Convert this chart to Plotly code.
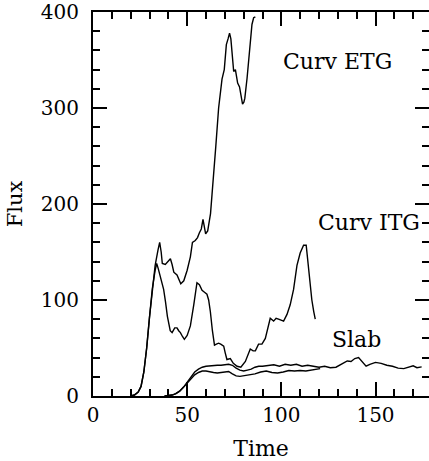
import plotly.graph_objects as go

# ---- data ----
etg_t = [20, 22, 24, 25.5, 27, 28.5, 30, 31.5, 33, 34.5, 35.4, 36.2, 36.8, 38.4, 40, 41.1, 42, 42.9,
         44.6, 45.5, 46.6, 48.2, 50, 51.7, 52.8, 54.3, 55.5, 56.5, 57.5, 58.4, 59.2, 59.8, 60.9, 61.6,
         62.4, 63.2, 64.2, 65.2, 66.7, 67.6, 68.5, 69.7, 70.2, 70.8, 71.7, 72.5, 73.2, 73.8, 74.7, 75.6,
         76.8, 77.8, 78.6, 79.4, 80.1, 80.6, 81.8, 83.1, 84.4, 85.3, 86.2]
etg_f = [0, 1, 4, 10, 25, 50, 82, 112, 136, 152, 160, 150, 138, 137, 141, 143, 137, 129,
         126, 122, 117, 120, 131, 145, 160, 162, 165, 170, 174, 184, 174, 169, 172, 180,
         190, 210, 240, 260, 300, 318, 330, 340, 355, 366, 372, 378, 372, 360, 338, 340,
         326, 322, 312, 304, 306, 310, 331, 359, 387, 394, 395]

itg_t = [20, 22, 24, 25.5, 27, 28.5, 30, 31.5, 33, 33.8, 34.6, 35.8, 37.5, 38.5, 39.5, 41, 42, 43.4,
         44.6, 45.5, 46.4, 47.5, 48.5, 50, 51.7, 53.5, 55.2, 56.5, 57.9, 59.2, 60.5, 61.4, 62.3, 63.4,
         64.5, 65.5, 66.7, 67.8, 69.4, 70.2, 71.1, 72.9, 74.5, 76.5, 78.5, 80.9, 82.5, 83.5, 85, 86.2,
         87.9, 89.7, 91.5, 93, 94.1, 95.9, 97.2, 98.5, 100, 101.2, 103, 104.7, 106.5, 108.3, 110,
         111.2, 111.8, 113.2, 114.4, 115.3, 116.2, 117.2, 118]
itg_f = [0, 1, 4, 10, 25, 50, 82, 112, 131, 138, 133, 124, 111, 98, 83, 68, 66, 71,
         71, 68, 66, 62, 59, 63, 73, 95, 118, 116, 110, 108, 106, 100, 88, 68,
         53, 54, 55, 54, 52, 45, 38, 39, 34, 31, 30, 36, 44, 49, 47, 47,
         54, 54, 60, 71, 81, 78, 81, 80, 79, 78, 85, 95, 111, 136, 149,
         155, 157, 157, 135, 115, 100, 88, 80]

slab_t = [38, 40, 42, 44, 46, 48, 50, 52, 54, 56, 58, 60, 62, 64, 66, 68, 70, 72, 74, 76, 78, 80,
          82, 84, 86, 88, 90, 93, 96, 99, 102, 105, 108, 111, 114, 117, 120, 123, 126, 129, 132,
          135, 137, 139, 141, 143, 145, 147, 150, 153, 156, 159, 162, 165, 168, 170, 172, 174.5]
slab_f = [0, 0.5, 1, 2.5, 5, 9, 14, 20, 25, 28, 30, 31, 31.5, 32, 32, 32, 32.5, 33, 32, 29, 27, 26,
          27, 28, 30, 31, 31, 32, 32.5, 31, 33, 32, 33, 31, 32, 31, 30, 31, 29.5, 30, 33,
          36.5, 36, 39, 40, 35, 31, 33, 35, 34, 32, 31, 29, 28.5, 30, 31.5, 29.5, 30.3]

low_t = [38, 40, 42, 44, 46, 48, 50, 52, 54, 56, 58, 60, 62, 64, 66, 68, 70, 72, 74, 76, 78, 80,
         83, 86, 89, 92, 95, 98, 101, 104, 107, 110, 113, 116, 118, 120.6]
low_f = [0, 0.5, 1, 2.5, 5, 9, 13, 18, 22, 24.5, 26, 26, 25, 24.5, 24, 24.5, 25, 25.5, 23, 21, 20.5, 21,
         22, 23, 25, 26, 24.5, 24, 25, 26.5, 26, 26.5, 26, 27, 27.5, 28.5]

labels = ["Curv ETG", "Curv ITG", "Slab"]
label_t = [129.6, 146.6, 139.7]
label_f = [348, 181, 59]

x_range = [0, 178.4]
y_range = [0, 400]

FONT = "DejaVu Serif"

fig = go.Figure()
for tt, ff in [(etg_t, etg_f), (itg_t, itg_f), (slab_t, slab_f), (low_t, low_f)]:
    fig.add_trace(go.Scatter(x=tt, y=ff, mode="lines",
                             line=dict(color="black", width=1.4), showlegend=False,
                             hoverinfo="skip"))
# empty trace to anchor the right-hand tick axis
fig.add_trace(go.Scatter(x=[], y=[], yaxis="y2", showlegend=False))

for lab, lt, lf in zip(labels, label_t, label_f):
    fig.add_annotation(x=lt, y=lf, text=lab, showarrow=False,
                       font=dict(family=FONT, size=22, color="black"))

fig.update_layout(
    width=429, height=461,
    margin=dict(l=93, r=0, t=11, b=64),
    paper_bgcolor="white", plot_bgcolor="white",
    font=dict(family=FONT, color="black"),
    xaxis=dict(range=x_range, showgrid=False, zeroline=False,
               showline=True, linewidth=2, linecolor="black", mirror="ticks",
               ticks="inside", ticklen=14, tickwidth=1.5, tickcolor="black",
               tickvals=[0, 50, 100, 150], ticktext=["0", "50", "100", "150"],
               minor=dict(dtick=10, tick0=0, ticks="inside", ticklen=7, tickwidth=1.5,
                          tickcolor="black", showgrid=False),
               tickfont=dict(family=FONT, size=20), ticklabeloverflow="allow",
               title=dict(text="Time", font=dict(family=FONT, size=22), standoff=19)),
    yaxis=dict(range=y_range, showgrid=False, zeroline=False,
               showline=True, linewidth=2, linecolor="black", mirror=False,
               ticks="inside", ticklen=14, tickwidth=1.5, tickcolor="black",
               tickvals=[0, 100, 200, 300, 400], ticktext=["0", "100", "200", "300", "400"],
               minor=dict(dtick=20, tick0=0, ticks="inside", ticklen=7, tickwidth=1.5,
                          tickcolor="black", showgrid=False),
               tickfont=dict(family=FONT, size=20), ticklabelstandoff=8,
               ticklabeloverflow="allow",
               title=dict(text="Flux", font=dict(family=FONT, size=21), standoff=12)),
    yaxis2=dict(range=y_range, overlaying="y", side="right", showgrid=False, zeroline=False,
                showline=False, showticklabels=False,
                ticks="inside", ticklen=14, tickwidth=1.5, tickcolor="black",
                tickvals=[0, 100, 200, 300, 400],
                minor=dict(dtick=20, tick0=0, ticks="inside", ticklen=7, tickwidth=1.5,
                           tickcolor="black", showgrid=False)),
)

fig.write_html("out.html", config={"displayModeBar": False},
               post_script="document.body.style.margin='0';document.body.style.overflow='hidden';")
